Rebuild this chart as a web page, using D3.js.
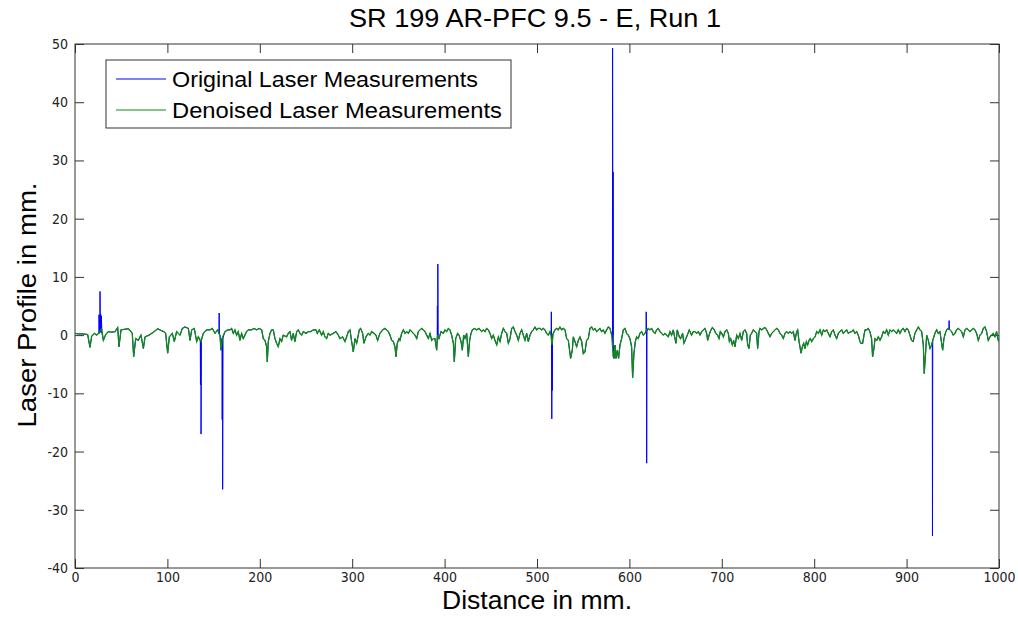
<!DOCTYPE html>
<html>
<head>
<meta charset="utf-8">
<script src="https://cdn.jsdelivr.net/npm/d3@7"></script>
<style>
  body { margin: 0; background: #fff; }
  svg text { font-family: "Liberation Sans", Arial, sans-serif; fill: #000; }
  .tick text { font-family: "Liberation Sans Narrow", "Arial Narrow", "DejaVu Sans Condensed", sans-serif; font-size: 14px; fill: #222; }
</style>
</head>
<body>
<script>
// tick labels
const xTicks = [0, 100, 200, 300, 400, 500, 600, 700, 800, 900, 1000];
const yTicks = [-40, -30, -20, -10, 0, 10, 20, 30, 40, 50];

// denoised profile, [distance mm, profile mm]
const denoised = [
  [0,0.3],[3.6,0.2],[9,0.2],[13.7,0.1],[16.2,-2.1],[18,-0.2],[21,0.3],[23.4,0.0],[26,0.4],[28.9,1.1],
  [30.7,-0.9],[33.2,0.1],[36,0.6],[39.7,0.5],[43.3,0.6],[46.2,1.3],[47.6,-2.0],[49.8,0.9],[53.4,1.0],[57.7,1.1],
  [60.6,0.6],[62,0.3],[63.5,-3.7],[65.7,-0.6],[68.5,-0.9],[71.4,0.0],[74,-2.3],[75.8,-0.3],[80.1,0.0],[84.8,0.5],
  [89.5,1.1],[93,0.8],[96,0.6],[98.1,0.3],[100.3,-3.1],[102.1,-0.3],[105.3,0.3],[107.5,-1.1],[110,0.6],[113.6,0.0],
  [116.2,1.15],[119,1.4],[122.7,1.15],[124.5,-0.9],[126.3,0.9],[129.1,1.15],[131.7,-1.1],[133.5,-0.3],[136.4,-1.1],[138.9,0.3],
  [142.5,0.9],[146.1,0.9],[148.6,1.15],[151.5,0.3],[154.4,0.9],[156.9,0.0],[158,-2.6],[159.8,-0.3],[162.3,0.6],[165.2,0.9],
  [167.7,0.9],[169.5,1.15],[171.3,0.3],[173.1,0.9],[174.9,0.0],[176.7,0.6],[178.5,-0.9],[180.3,0.3],[182.1,-0.6],[183.9,0.0],
  [185.7,0.6],[187.5,0.9],[191.1,0.9],[193.7,1.15],[196.6,0.9],[199.4,1.15],[202,0.9],[203.8,-0.6],[205.6,-0.9],[207.4,-2.0],
  [208.1,-4.6],[209.2,-1.1],[211,0.3],[212.8,0.9],[214.6,0.9],[216.4,-0.6],[218.2,-1.4],[220,-2.0],[221.8,-0.6],[223.6,-1.1],
  [225.4,0.0],[229,-0.3],[230.8,0.3],[232.6,0.6],[234.4,-0.9],[236.2,0.3],[238,-1.1],[239.9,0.6],[241.6,0.9],[243.5,0.3],
  [245.3,0.0],[247.1,0.6],[250,0.3],[252.5,0.6],[255,0.6],[257.9,0.9],[260.8,0.9],[262.2,0.3],[264.4,0.9],[266.9,0.0],
  [268.7,0.6],[270.5,-0.3],[272.3,-0.6],[274.1,0.3],[275.9,0.0],[279.5,0.3],[282.4,0.6],[285,0.0],[286.7,-0.6],[289.6,-0.3],
  [292.2,-1.1],[294,-0.3],[295.8,0.6],[297.6,0.9],[299.4,-1.1],[301.2,-2.9],[303,-0.6],[304.8,-1.4],[307.7,0.9],[309.1,1.15],
  [311.3,0.3],[312.7,-1.4],[314.9,-0.3],[317.4,0.3],[319.2,0.0],[321,0.6],[323.5,0.3],[325.7,0.0],[327.5,-0.9],[330,0.3],
  [332.9,0.9],[335.4,1.15],[337.3,0.9],[339.1,0.6],[340.9,0.0],[342.7,-0.9],[344.5,-1.1],[346.3,-2.0],[347.4,-3.7],[348.8,-1.4],
  [350.7,-0.6],[351.7,-0.9],[353.5,0.3],[355.3,0.9],[357.1,0.3],[359,0.6],[360.8,0.3],[362.6,0.9],[364.4,0.6],[366.2,0.3],
  [368,0.0],[369.8,-0.6],[371.6,0.6],[373.4,0.9],[375.2,1.15],[377,0.9],[378.8,0.6],[380.6,0.0],[382.4,-0.6],[384.2,0.3],
  [386,-0.9],[387.8,-0.6],[389.6,-0.6],[391.4,-2.6],[392.5,0.0],[393.9,-0.6],[396.1,0.6],[398.6,0.3],[400.4,0.9],[402.2,0.6],
  [404,1.15],[405.8,0.9],[407.6,0.0],[409.5,-1.4],[410.5,-4.6],[412,-0.6],[414.1,0.3],[415.6,0.0],[417.8,-1.1],[419.2,-2.6],
  [420.6,0.0],[422.1,-0.6],[423.9,0.3],[425.7,-3.7],[427.1,-0.9],[428.6,0.3],[430,0.9],[432.2,1.15],[434.7,0.9],[437.2,1.15],
  [440.1,0.6],[441.9,0.9],[443.7,0.6],[445.5,1.15],[447.3,0.9],[449.1,0.3],[450.9,-0.6],[452.7,0.0],[454.5,-0.9],[456.4,-1.7],
  [458.2,-0.3],[460,-1.1],[461.8,0.3],[463.6,1.15],[465.4,0.6],[467.2,0.3],[469,-1.4],[470.8,-0.6],[472.6,1.15],[474.4,1.4],
  [476.2,0.6],[478,0.0],[479.8,-0.9],[481.6,0.3],[483.4,0.9],[485.2,0.0],[487,-0.9],[488.8,0.3],[490.6,-1.1],[492.4,0.0],
  [494.2,0.6],[496,0.9],[497.8,1.4],[499.6,0.9],[501.4,1.15],[503.3,1.15],[505,0.9],[506.8,1.15],[508.6,0.9],[510.4,0.3],
  [512.2,0.0],[514,0.6],[515.1,0.0],[516.2,-1.7],[517.6,0.3],[519.4,0.9],[521.2,1.15],[523,0.9],[524.8,1.4],[526.6,0.9],
  [528.5,1.15],[530.3,0.9],[532.1,-0.6],[533.9,-0.9],[535,-2.3],[536.4,-4.0],[538.2,-2.6],[539.3,-0.3],[541.1,-1.1],[542.9,-2.0],
  [544.7,-0.9],[546.5,-0.3],[548.3,-1.1],[550.1,-3.2],[551.9,-2.9],[553.7,-0.9],[555.5,-0.6],[557.3,1.15],[559.1,1.4],[560.9,0.9],
  [562.7,1.15],[564.5,0.6],[566.3,0.9],[568.1,1.15],[569.9,0.6],[571.7,0.9],[573.5,0.3],[575.4,0.9],[577.2,1.4],[579,1.15],
  [580.8,0.0],[581.8,-2.0],[582.6,-3.7],[583.3,-4.0],[584.4,-1.7],[585.5,-4.0],[586.9,-2.6],[588.3,-4.0],[589.8,-1.7],[591.6,-0.6],
  [593.4,0.9],[595.2,1.15],[597,0.3],[598.8,0.0],[600.6,-0.6],[602.4,-2.0],[603.5,-7.3],[604.9,-3.2],[606.4,-1.1],[607.8,-0.3],
  [609.6,-0.6],[611.4,0.3],[613.2,0.6],[615,0.0],[616.8,0.3],[618.6,0.9],[620.4,1.15],[622.2,0.9],[624.1,1.15],[625.9,0.6],
  [627.7,0.3],[629.5,0.9],[631.3,1.15],[633.1,0.6],[634.9,0.3],[636.7,0.0],[638.5,0.3],[640.3,0.0],[642.1,-0.3],[643.9,0.6],
  [645.7,0.0],[647.5,0.9],[649.3,-0.6],[650.4,-1.4],[651.8,0.9],[654,-0.3],[655.4,-0.6],[657.6,0.3],[659,-1.4],[661.2,-0.6],
  [662.7,0.0],[664.8,0.9],[667.3,0.0],[669.1,0.6],[671,0.6],[672.8,0.3],[674.6,0.6],[676.4,0.0],[678.2,0.6],[680,0.9],
  [681.8,1.15],[683.6,0.3],[684.7,-0.9],[686.2,0.0],[688.3,0.9],[689.8,1.3],[691.9,0.9],[693.4,0.3],[695.5,0.0],[697,-0.6],
  [698.4,0.6],[699.9,0.3],[701.7,-0.3],[703.5,0.6],[705.3,0.9],[707.1,0.3],[708.2,-1.1],[709.6,-0.6],[711.4,-1.7],[712.8,-0.9],
  [714.3,-2.0],[716.1,0.0],[717.9,-0.6],[719.7,0.3],[721.5,-0.9],[723.3,0.6],[725.1,0.9],[726.9,0.3],[728,-1.7],[729.4,-2.3],
  [730.9,0.0],[732.3,0.3],[734.1,0.9],[735.9,0.6],[737.7,0.3],[738.8,-2.3],[740.3,0.6],[741.3,1.15],[743.2,0.9],[745,1.15],
  [746.8,1.3],[748.6,0.9],[750.4,0.3],[752.2,-0.3],[754,0.3],[755.8,0.6],[757.6,0.9],[759.4,1.15],[761.2,0.9],[763,0.3],
  [764.8,0.0],[766.6,-0.6],[768.4,0.3],[770.2,0.6],[772,0.3],[773.8,0.6],[775.6,0.3],[777.4,0.6],[779.2,-0.9],[781,0.6],
  [782.1,0.9],[783.6,-1.1],[784.6,-2.0],[785.7,-3.1],[787.2,-2.0],[788.6,-1.4],[790,-2.3],[791.5,-1.1],[792.9,-1.7],[794.4,-0.9],
  [795.8,-0.6],[797.3,-1.1],[799.1,-0.6],[800.9,-0.3],[802.7,0.6],[804.5,0.3],[806.3,0.9],[808.1,0.0],[809.9,0.9],[811.7,0.6],
  [813.5,0.9],[815.3,0.3],[817.1,-0.3],[818.9,0.6],[820.7,0.9],[822.5,0.0],[824.3,-0.6],[826.1,0.3],[827.9,0.6],[829.7,0.9],
  [831.5,0.3],[833.3,0.6],[835.1,0.9],[836.9,0.3],[838.7,0.5],[840.5,0.6],[842.3,0.9],[844.1,0.3],[845.9,0.6],[847.7,0.0],
  [849.5,-1.1],[850.6,-1.4],[852.4,-1.4],[853.9,0.0],[855,0.9],[856.7,0.9],[858.5,1.15],[860.3,0.6],[862.1,-0.6],[863.2,-3.7],
  [864.7,-2.3],[865.8,-0.6],[867.6,-0.9],[869.4,-0.3],[871.2,-0.9],[873,-0.3],[874.8,0.6],[876.6,0.3],[878.4,0.9],[880.2,0.0],
  [882,0.9],[883.8,0.6],[885.6,0.9],[887.4,0.6],[889.2,0.3],[891,0.9],[892.8,0.3],[894.6,0.9],[896.4,1.15],[898.2,0.6],
  [900,1.15],[901.8,0.9],[903.6,0.0],[905.4,-0.9],[907.2,-1.1],[909,0.3],[910.9,0.9],[912.7,1.4],[914.5,0.9],[916.3,0.6],
  [918.1,-1.7],[919.1,-6.6],[920.6,-2.9],[921.7,0.0],[923.5,-0.9],[925.3,-2.3],[927.1,-1.7],[928.9,-0.6],[930.7,0.3],[932.5,0.9],
  [934.3,0.3],[936.1,0.6],[937.9,-1.4],[939,-2.6],[940.4,-0.6],[941.9,0.3],[943.3,0.9],[945.1,1.15],[946.9,0.9],[948.7,0.6],
  [950.5,0.0],[952.3,0.3],[954.1,0.9],[955.9,1.15],[957.7,0.9],[959.5,0.6],[961.4,-0.3],[963.2,0.9],[965,1.15],[966.8,0.9],
  [968.6,0.6],[970.4,0.9],[972.2,1.15],[974,0.9],[975.8,0.3],[977.6,-0.9],[979.4,0.0],[981.2,0.3],[983,1.15],[984.8,1.4],
  [986.6,0.6],[988.4,-0.9],[990.2,-0.3],[992,0.0],[993.8,0.3],[995.6,-0.3],[997.4,0.6],[999.2,-0.9],[1000,-1.1]
];

// spikes seen only in the original measurements
const spikes = [
  [25.8,0.4],[26.0,3.5],[26.3,0.3],[26.6,3.4],[26.9,0.5],[27.1,7.5],[27.4,0.6],[27.8,3.6],[28.2,0.4],[28.6,3.3],[29.0,0.5],
  [135.6,-1.0],[135.8,-8.5],[136.1,-1.0],[136.4,-17.0],[136.7,-0.8],
  [155.8,0.2],[156.0,3.8],[156.3,0.1],
  [159.1,-0.5],[159.3,-14.5],[159.6,-1.0],[159.8,-26.5],[160.1,-0.5],
  [392.0,-0.3],[392.2,5.0],[392.5,-0.5],[392.7,12.2],[393.0,-0.4],
  [515.3,0.0],[515.5,4.0],[515.8,-1.0],[516.0,-14.4],[516.3,-1.2],[516.5,-9.5],[516.8,0.0],
  [581.6,0.2],[581.8,49.3],[582.1,0.0],[582.4,28.0],[582.7,-2.0],
  [618.0,0.5],[618.2,4.0],[618.5,0.3],[618.7,-22.0],[619.0,0.6],
  [927.8,-1.2],[928.0,-34.5],[928.3,-0.8],
  [945.8,0.9],[946.0,2.5],[946.3,1.0]
];

const original = denoised.concat(spikes).sort((a, b) => a[0] - b[0]);

const W = 1018, H = 626;
const plotLeft = 75, plotRight = 999, plotTop = 44, plotBottom = 568;

const svg = d3.select("body").append("svg")
    .attr("width", W)
    .attr("height", H);

const x = d3.scaleLinear().domain([0, 1000]).range([plotLeft, plotRight]);
const y = d3.scaleLinear().domain([-40, 50]).range([plotBottom, plotTop]);

svg.append("defs").append("clipPath").attr("id", "clip")
  .append("rect")
    .attr("x", plotLeft).attr("y", plotTop)
    .attr("width", plotRight - plotLeft).attr("height", plotBottom - plotTop);

// axes with MATLAB-style inward ticks
const tick = 9;
const plain = d => String(d);
svg.append("g")
    .attr("transform", `translate(0,${plotBottom})`)
    .call(d3.axisBottom(x).tickValues(xTicks).tickSize(-tick).tickPadding(4).tickFormat(plain));
svg.append("g")
    .attr("transform", `translate(${plotLeft},0)`)
    .call(d3.axisLeft(y).tickValues(yTicks).tickSize(-tick).tickPadding(7).tickFormat(plain));
svg.append("g")
    .attr("transform", `translate(0,${plotTop})`)
    .call(d3.axisTop(x).tickValues(xTicks).tickSize(-tick).tickFormat(""));
svg.append("g")
    .attr("transform", `translate(${plotRight},0)`)
    .call(d3.axisRight(y).tickValues(yTicks).tickSize(-tick).tickFormat(""));

svg.selectAll(".domain").remove();
svg.selectAll(".tick line").attr("stroke", "#333");

svg.append("rect")
    .attr("x", plotLeft).attr("y", plotTop)
    .attr("width", plotRight - plotLeft).attr("height", plotBottom - plotTop)
    .attr("fill", "none")
    .attr("stroke", "#333")
    .attr("stroke-width", 1);

const line = d3.line().x(d => x(d[0])).y(d => y(d[1]));

const plot = svg.append("g").attr("clip-path", "url(#clip)");
plot.append("path")
    .datum(original)
    .attr("fill", "none")
    .attr("stroke", "#0000ff")
    .attr("stroke-width", 1)
    .attr("d", line);
plot.append("path")
    .datum(denoised)
    .attr("fill", "none")
    .attr("stroke", "#108a10")
    .attr("stroke-width", 1.3)
    .attr("d", line);

// titles
svg.append("text")
    .attr("x", 535).attr("y", 27)
    .attr("text-anchor", "middle")
    .attr("font-size", 25)
    .attr("textLength", 372)
    .attr("lengthAdjust", "spacingAndGlyphs")
    .text("SR 199 AR-PFC 9.5 - E, Run 1");

svg.append("text")
    .attr("x", 537).attr("y", 609)
    .attr("text-anchor", "middle")
    .attr("font-size", 25)
    .attr("textLength", 190)
    .attr("lengthAdjust", "spacingAndGlyphs")
    .text("Distance in mm.");

svg.append("text")
    .attr("transform", "translate(36,305) rotate(-90)")
    .attr("text-anchor", "middle")
    .attr("font-size", 25)
    .attr("textLength", 245)
    .attr("lengthAdjust", "spacingAndGlyphs")
    .text("Laser Profile in mm.");

// legend
const legendItems = [
  { label: "Original Laser Measurements", color: "#0000ff", width: 306 },
  { label: "Denoised Laser Measurements", color: "#108a10", width: 330 }
];
const lg = svg.append("g");
lg.append("rect")
    .attr("x", 106).attr("y", 60)
    .attr("width", 405).attr("height", 68)
    .attr("fill", "#fff")
    .attr("stroke", "#333");
legendItems.forEach((d, i) => {
  const cy = 79 + i * 31;
  lg.append("line")
      .attr("x1", 116).attr("x2", 166)
      .attr("y1", cy).attr("y2", cy)
      .attr("stroke", d.color)
      .attr("stroke-width", 1);
  lg.append("text")
      .attr("x", 172).attr("y", cy + 8)
      .attr("font-size", 22)
      .attr("textLength", d.width)
      .attr("lengthAdjust", "spacingAndGlyphs")
      .text(d.label);
});
</script>
</body>
</html>
